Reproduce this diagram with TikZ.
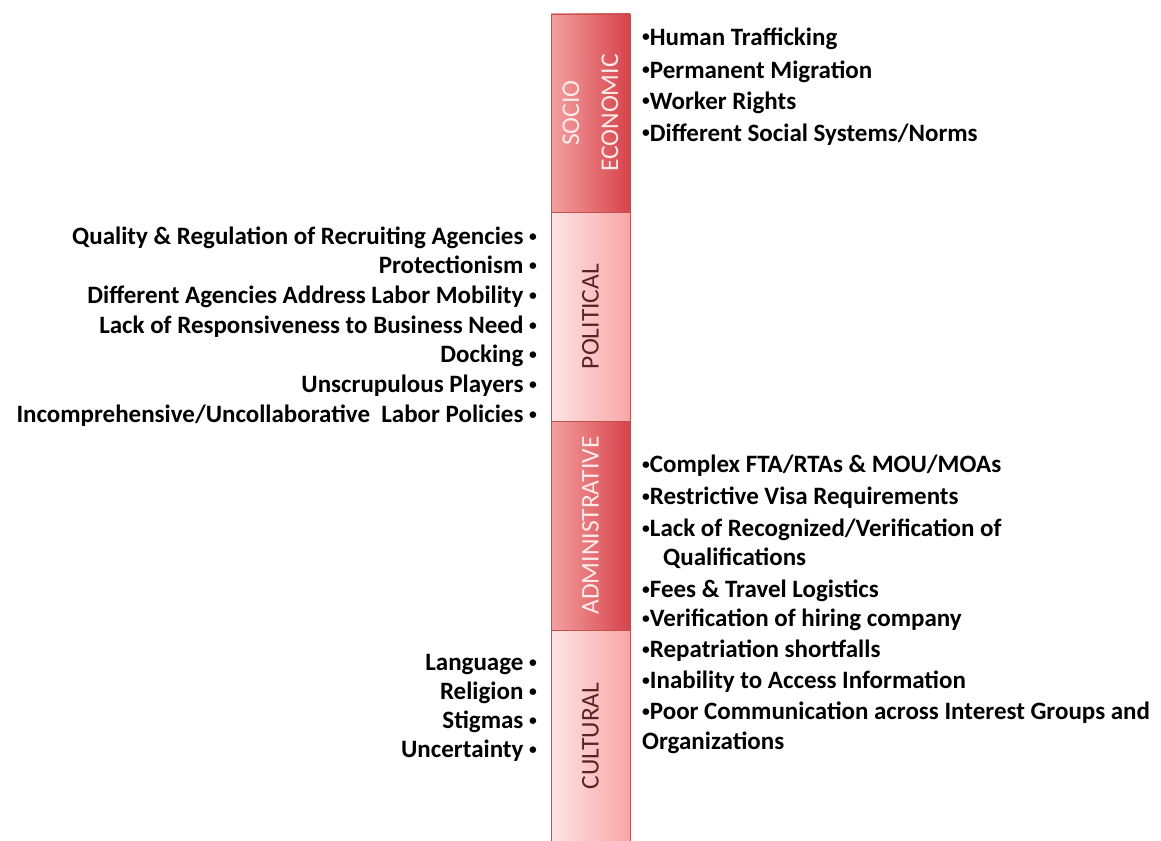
\documentclass[tikz,border=0pt]{standalone}
\usepackage{fontspec}
\setmainfont{Carlito}
\definecolor{darkL}{HTML}{F4A0A0}
\definecolor{darkR}{HTML}{D6434B}
\definecolor{lightL}{HTML}{FEE4E4}
\definecolor{lightR}{HTML}{F8A6A6}
\definecolor{segline}{HTML}{C0504D}
\definecolor{labdark}{HTML}{5A2222}
\newcommand{\smb}{\raisebox{0.14em}{\scalebox{0.62}{•}}}
\begin{document}
\begin{tikzpicture}[x=1pt,y=-1pt,
  seg/.style={draw=segline, line width=0.8pt, minimum width=79pt, inner sep=0pt, outer sep=0pt},
  darkseg/.style={seg, left color=darkL, right color=darkR},
  lightseg/.style={seg, left color=lightL, right color=lightR},
  barlab/.style={rotate=90, align=center, font=\fontsize{25.5}{39}\selectfont, inner sep=0pt},
  lt/.style={anchor=east, inner sep=0pt, text height=0.72em, text depth=0.22em, font=\fontsize{25}{28}\selectfont\bfseries},
  rt/.style={anchor=west, inner sep=0pt, text height=0.72em, text depth=0.22em, font=\fontsize{25}{28}\selectfont\bfseries}]
\useasboundingbox (0,0) rectangle (1161,840);
% bar segments
\node[darkseg, minimum height=198pt] (soc) at (590.5,113) {};
\node[lightseg, minimum height=209pt] (pol) at (590.5,316.5) {};
\node[darkseg, minimum height=209pt] (adm) at (590.5,525.5) {};
\node[lightseg, minimum height=212pt] (cul) at (590.5,736) {};
\node[barlab, text=white!92!red] (socl) at (soc.center) {SOCIO\\ECONOMIC};
\node[barlab, text=labdark] (poll) at (pol.center) {POLITICAL};
\node[barlab, text=white!92!red] (adml) at (adm.center) {ADMINISTRATIVE};
\node[barlab, text=labdark] (cull) at (cul.center) {CULTURAL};
% socio economic
\node[rt] (s1) at (642,43) {\smb Human Trafficking};
\node[rt] (s2) at (642,76) {\smb Permanent Migration};
\node[rt] (s3) at (642,107) {\smb Worker Rights};
\node[rt] (s4) at (642,139) {\smb Different Social Systems/Norms};
% political
\node[lt] (p1) at (537,242) {Quality \& Regulation of Recruiting Agencies \smb};
\node[lt] (p2) at (537,271) {Protectionism \smb};
\node[lt] (p3) at (537,301) {Different Agencies Address Labor Mobility \smb};
\node[lt] (p4) at (537,331) {Lack of Responsiveness to Business Need \smb};
\node[lt] (p5) at (537,360) {Docking \smb};
\node[lt] (p6) at (537,390) {Unscrupulous Players \smb};
\node[lt] (p7) at (537,420) {Incomprehensive/Uncollaborative\ \ Labor Policies \smb};
% administrative
\node[rt] (a1) at (642,470) {\smb Complex FTA/RTAs \& MOU/MOAs};
\node[rt] (a2) at (642,502) {\smb Restrictive Visa Requirements};
\node[rt] (a3) at (642,534) {\smb Lack of Recognized/Verification of};
\node[rt] (a3b) at (642,563) {\hspace{21pt}Qualifications};
\node[rt] (a4) at (642,595) {\smb Fees \& Travel Logistics};
\node[rt] (a5) at (642,624) {\smb Verification of hiring company};
\node[rt] (a6) at (642,655) {\smb Repatriation shortfalls};
\node[rt] (a7) at (642,686) {\smb Inability to Access Information};
\node[rt] (a8) at (642,717) {\smb Poor Communication across Interest Groups and};
\node[rt] (a8b) at (642,747) {Organizations};
% cultural
\node[lt] (c1) at (537,668) {Language \smb};
\node[lt] (c2) at (537,697) {Religion \smb};
\node[lt] (c3) at (537,726) {Stigmas \smb};
\node[lt] (c4) at (537,755) {Uncertainty \smb};
\end{tikzpicture}
\end{document}
